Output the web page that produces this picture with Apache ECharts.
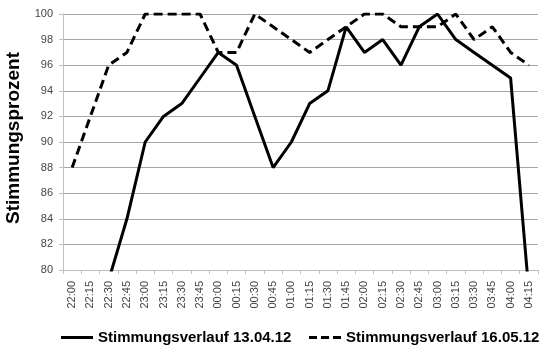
<!DOCTYPE html>
<html>
<head>
<meta charset="utf-8">
<script src="https://cdn.jsdelivr.net/npm/echarts@6/dist/echarts.min.js"></script>
<style>html,body{margin:0;padding:0;background:#fff}#c{width:541px;height:357px}</style>
</head>
<body>
<div id="c"></div>
<script>
var categories = ['22:00','22:15','22:30','22:45','23:00','23:15','23:30','23:45','00:00','00:15','00:30','00:45','01:00','01:15','01:30','01:45','02:00','02:15','02:30','02:45','03:00','03:15','03:30','03:45','04:00','04:15'];
var series1Name = 'Stimmungsverlauf 13.04.12';
var series1 = [null, null, 79.2, 84, 90, 92, 93, 95, 97, 96, 92, 88, 90, 93, 94, 99, 97, 98, 96, 99, 100, 98, 97, 96, 95, 78.3];
var series2Name = 'Stimmungsverlauf 16.05.12';
var series2 = [88, 92, 96, 97, 100, 100, 100, 100, 97, 97, 100, 99, 98, 97, 98, 99, 100, 100, 99, 99, 99, 100, 98, 99, 97, 96];
var yTicks = [80, 82, 84, 86, 88, 90, 92, 94, 96, 98, 100];

var legendText = {fontFamily: 'Liberation Sans, Arial', fontWeight: 'bold', fontSize: 15, color: '#000'};
var chart = echarts.init(document.getElementById('c'), null, {renderer: 'canvas'});
chart.setOption({
  animation: false,
  backgroundColor: '#fff',
  grid: {left: 63, right: 3, top: 14, bottom: 87, containLabel: false, outerBoundsMode: 'none'},
  legend: [
    {
      left: 56, top: 325, itemWidth: 32, itemHeight: 3, textStyle: legendText,
      data: [{name: series1Name, icon: 'path://M0,0H32V3H0Z'}]
    },
    {
      left: 304, top: 325, itemWidth: 32, itemHeight: 3, textStyle: legendText,
      data: [{name: series2Name, icon: 'path://M0,0H8V3H0Z M12,0H20V3H12Z M24,0H32V3H24Z'}]
    }
  ],
  xAxis: {
    type: 'category', data: categories, boundaryGap: true,
    axisLine: {lineStyle: {color: '#bfbfbf', width: 1}},
    axisTick: {show: true, length: 4, interval: 0, lineStyle: {color: '#bfbfbf'}},
    axisLabel: {interval: 0, rotate: 90, margin: 11, fontSize: 11, color: '#444', fontFamily: 'Liberation Sans, Arial'},
    splitLine: {show: false}
  },
  yAxis: {
    type: 'value', min: yTicks[0], max: yTicks[yTicks.length - 1], interval: 2,
    name: 'Stimmungsprozent', nameLocation: 'middle', nameGap: 40,
    nameTextStyle: {fontFamily: 'Liberation Sans, Arial', fontWeight: 'bold', fontSize: 19, color: '#000', padding: [0, 0, 0, 8]},
    axisLine: {show: true, lineStyle: {color: '#bfbfbf', width: 1}},
    axisTick: {show: true, length: 4, lineStyle: {color: '#bfbfbf'}},
    axisLabel: {margin: 10, fontSize: 11, color: '#444', fontFamily: 'Liberation Sans, Arial'},
    splitLine: {show: true, lineStyle: {color: '#a6a6a6', width: 1}}
  },
  series: [
    {
      name: series1Name, type: 'line', data: series1, symbol: 'none', showSymbol: false,
      clip: true, connectNulls: false,
      lineStyle: {color: '#000', width: 3, type: 'solid'},
      itemStyle: {color: '#000'}
    },
    {
      name: series2Name, type: 'line', data: series2, symbol: 'none', showSymbol: false,
      clip: true,
      lineStyle: {color: '#000', width: 3, type: [9, 5]},
      itemStyle: {color: '#000'}
    }
  ]
});
</script>
</body>
</html>
